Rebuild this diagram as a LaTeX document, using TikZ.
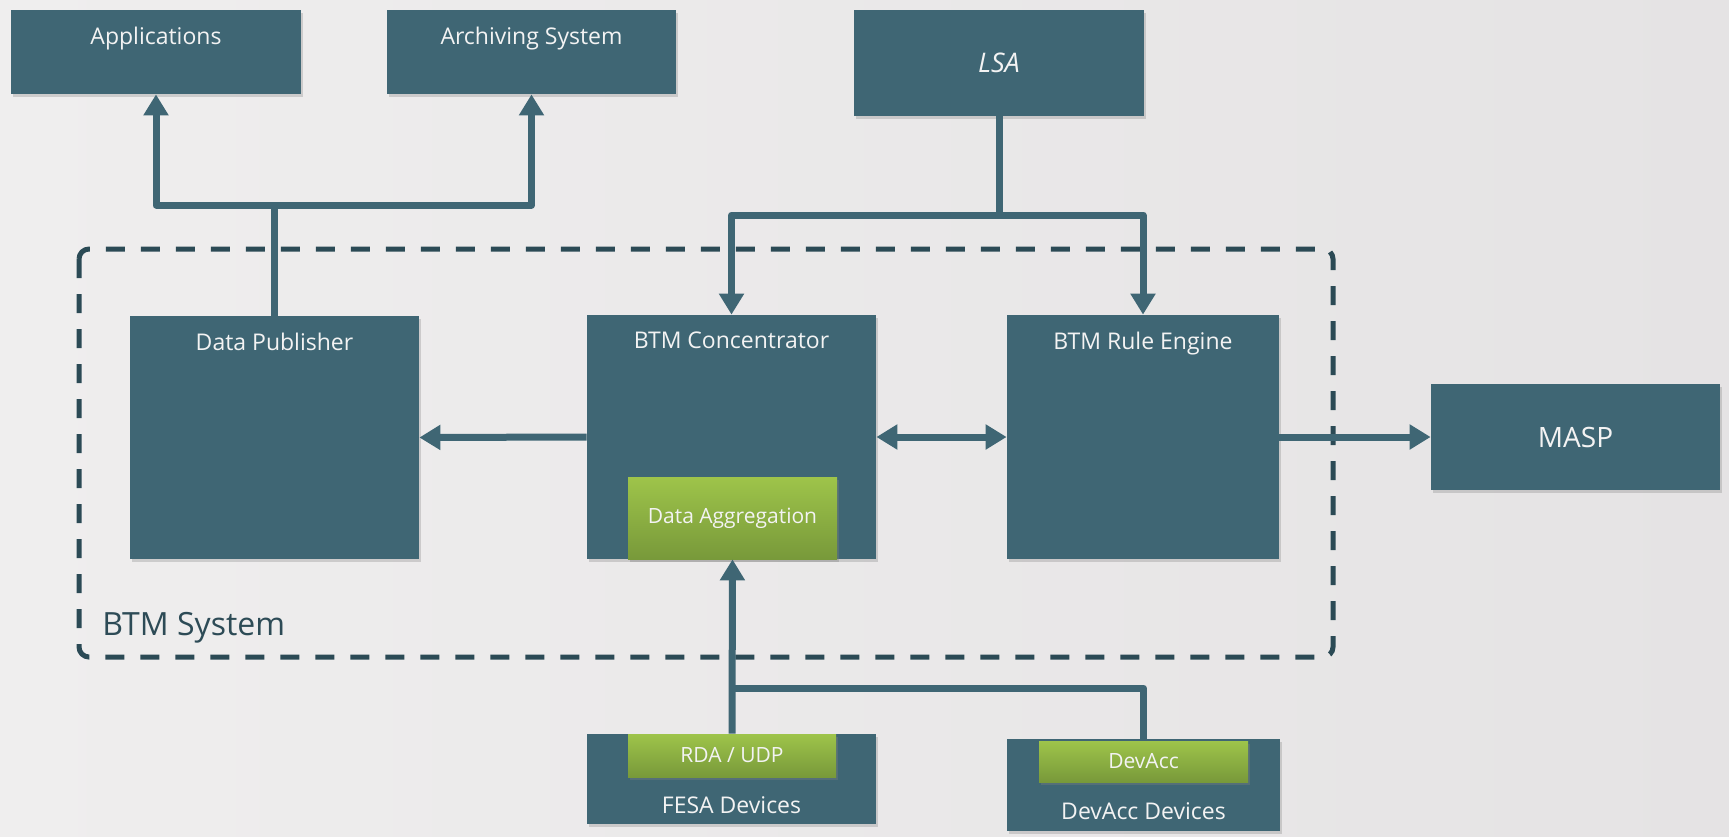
\documentclass[tikz,border=0pt]{standalone}
\usepackage{fontspec}
\setmainfont{Open Sans}
\usepackage{tikz}
\usetikzlibrary{positioning, arrows.meta, shadows}

\definecolor{boxcol}{RGB}{63,102,116}
\definecolor{framecol}{RGB}{43,74,85}
\definecolor{labelcol}{RGB}{45,75,86}
\definecolor{greentop}{RGB}{158,196,74}
\definecolor{greenbot}{RGB}{120,153,58}
\definecolor{bgleft}{RGB}{239,238,238}
\definecolor{bgright}{RGB}{229,227,228}
\definecolor{textcol}{RGB}{243,243,243}

\tikzset{
  block/.style={rectangle, fill=boxcol, inner sep=0pt,
    drop shadow={shadow xshift=1pt, shadow yshift=-1.5pt, opacity=0.3}},
  greenbox/.style={rectangle, top color=greentop, bottom color=greenbot,
    inner sep=0pt, text=textcol, font=\fontsize{10.5}{13}\selectfont,
    drop shadow={shadow xshift=1pt, shadow yshift=-1.5pt, opacity=0.35}},
  title/.style={inner sep=0pt, text=textcol, font=\fontsize{11.5}{14}\selectfont},
  wire/.style={draw=boxcol, line width=3.5pt, line join=round},
  flow/.style={wire, -{Triangle[width=12pt,length=10.5pt]}},
  biflow/.style={wire, {Triangle[width=12pt,length=10.5pt]}-{Triangle[width=12pt,length=10.5pt]}},
  sysframe/.style={draw=framecol, line width=2.5pt, dash pattern=on 9.5pt off 8pt,
    rounded corners=5pt}
}

\begin{document}
\begin{tikzpicture}[x=0.5pt, y=-0.5pt]
% background
\shade[left color=bgleft, right color=bgright] (0,0) rectangle (1729,836);

% system frame
\draw[sysframe] (79,249) rectangle (1333,657);
\node[anchor=base west, inner sep=0pt, text=labelcol, font=\fontsize{16}{19}\selectfont]
  (syslabel) at (102,635) {BTM System};

% outer blocks
\node[block, minimum width=145pt, minimum height=42pt] (apps) at (156,52) {};
\node[title, below=8.5pt of apps.north] (appstitle) {Applications};
\node[block, minimum width=144.5pt, minimum height=42pt] (arch) at (531.5,52) {};
\node[title, below=8.5pt of arch.north] (archtitle) {Archiving System};
\node[block, minimum width=145pt, minimum height=53pt, text=textcol,
  font=\fontsize{13.5}{16}\selectfont\itshape] (lsa) at (999,63) {LSA};
\node[block, minimum width=144.5pt, minimum height=53pt, text=textcol,
  font=\fontsize{14}{17}\selectfont] (masp) at (1575.5,437) {MASP};

% BTM blocks
\node[block, minimum width=144.5pt, minimum height=121.5pt] (dp) at (274.5,437.5) {};
\node[title, below=8.5pt of dp.north] (dptitle) {Data Publisher};
\node[block, minimum width=144.5pt, minimum height=122pt] (conc) at (731.5,437) {};
\node[title, below=8.5pt of conc.north] (conctitle) {BTM Concentrator};
\node[block, minimum width=136pt, minimum height=122pt] (rule) at (1143,437) {};
\node[title, below=8.5pt of rule.north] (ruletitle) {BTM Rule Engine};
\node[greenbox, minimum width=104.5pt, minimum height=41pt] (agg) at (732.5,518) {Data Aggregation};

% devices
\node[block, minimum width=144.5pt, minimum height=45pt] (fesa) at (731.5,779) {};
\node[title, above=5pt of fesa.south] (fesatitle) {FESA Devices};
\node[greenbox, minimum width=104pt, minimum height=21.5pt] (rda) at (732,755.5) {RDA / UDP};
\node[block, minimum width=136.5pt, minimum height=46pt] (devbox) at (1143.5,785) {};
\node[title, above=5.5pt of devbox.south] (devtitle) {DevAcc Devices};
\node[greenbox, minimum width=104.5pt, minimum height=20.5pt] (devacc) at (1143.5,761.5) {DevAcc};

% connectors
\coordinate (pubsplit) at (274.5,205);
\coordinate (lsasplit) at (999,215);
\coordinate (devsplit) at (732.5,688);

\draw[wire] (dp.north) -- (pubsplit);
\draw[flow] (pubsplit) -| (apps.south);
\draw[flow] (pubsplit) -| (arch.south);
\draw[wire] (lsa.south) -- (lsasplit);
\draw[flow] (lsasplit) -| (conc.north);
\draw[flow] (lsasplit) -| (rule.north);
\draw[flow] (conc.west) -- (dp.east);
\draw[biflow] (conc.east) -- (rule.west);
\draw[flow] (rule.east) -- (masp.west);
\draw[flow] (rda.north) -- (agg.south);
\draw[wire] (devbox.north) |- (devsplit);
\end{tikzpicture}
\end{document}
